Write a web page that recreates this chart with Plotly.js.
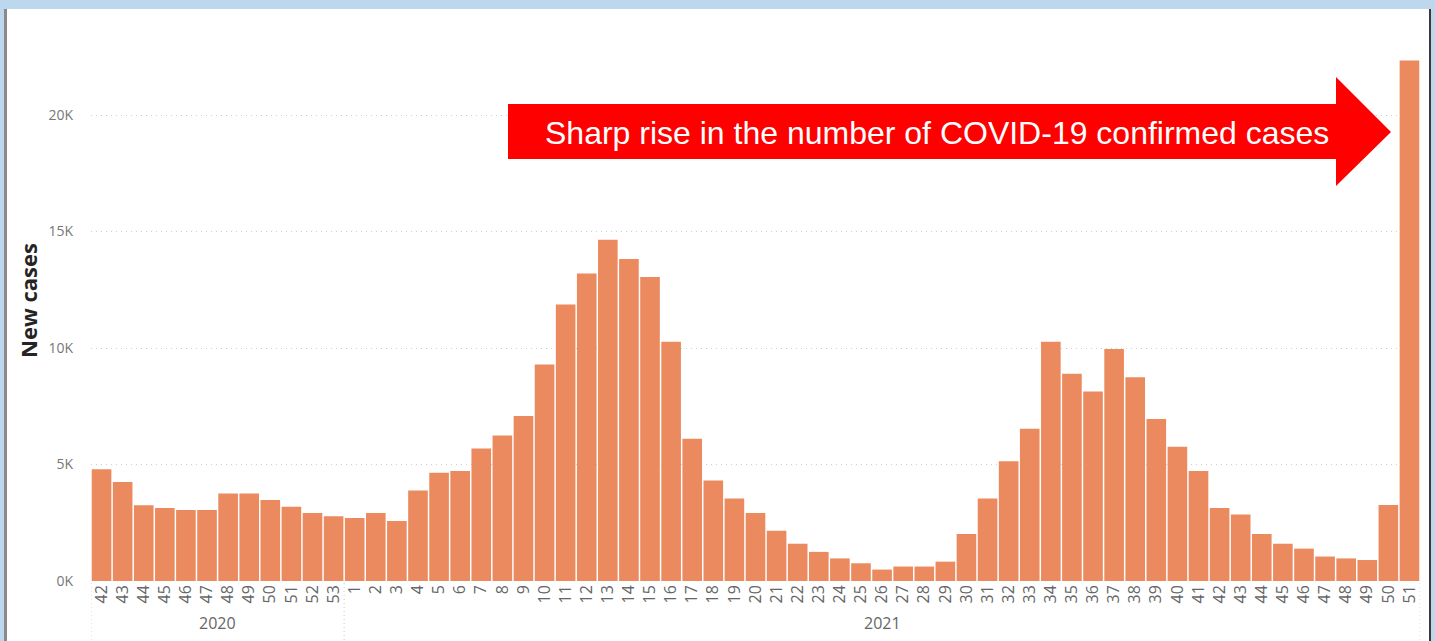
<!DOCTYPE html>
<html>
<head>
<meta charset="utf-8">
<script src="https://cdn.plot.ly/plotly-3.0.1.min.js"></script>
<style>
  html, body { margin: 0; padding: 0; width: 1435px; height: 641px; overflow: hidden; background: #BDD7EE; }
  #panel { position: absolute; left: 4px; top: 9px; width: 1427px; height: 632px; background: #ffffff;
           border-left: 3px solid #8a8a8a; border-right: 2px solid #3a3a3a; box-sizing: border-box; }
  #chart { position: absolute; left: 0; top: 0; width: 1435px; height: 641px; }
</style>
</head>
<body>
<div id="panel"></div>
<div id="chart"></div>
<script>
// ---- data ----
const weeks2020 = ["42","43","44","45","46","47","48","49","50","51","52","53"];
const cases2020 = [4800,4250,3250,3130,3050,3050,3760,3760,3480,3190,2920,2780];
const weeks2021 = ["1","2","3","4","5","6","7","8","9","10","11","12","13","14","15","16","17","18","19","20",
                   "21","22","23","24","25","26","27","28","29","30","31","32","33","34","35","36","37","38","39","40",
                   "41","42","43","44","45","46","47","48","49","50","51"];
const cases2021 = [2700,2920,2580,3880,4650,4720,5690,6250,7080,9290,11870,13200,14650,13820,13050,10270,6100,4310,3540,2920,
                   2160,1600,1250,970,760,490,620,620,830,2020,3540,5140,6530,10270,8890,8130,9960,8750,6950,5760,
                   4720,3130,2850,2020,1600,1390,1050,970,900,3260,22340];
const yTickVals = [0,5000,10000,15000,20000];
const yTickText = ["0K","5K","10K","15K","20K"];
const yearLabels = ["2020","2021"];
const arrowText = "Sharp rise in the number of COVID-19 confirmed cases";

// ---- build ----
const cats = weeks2020.map(w => "2020-" + w).concat(weeks2021.map(w => "2021-" + w));
const weekText = weeks2020.concat(weeks2021);
const values = cases2020.concat(cases2021);

// layout geometry (pixels in window)
const L = 91, R = 1420, T = 20, B = 581;
const px2x = p => (p - L) / (R - L);
const py2y = p => (B - p) / (B - T);

const n2020 = weeks2020.length, nAll = cats.length;

const arrowPts = [[508,104],[1336,104],[1336,77],[1391,132],[1336,186],[1336,159],[508,159]];
const arrowPath = "M " + arrowPts.map(p => px2x(p[0]).toFixed(5) + "," + py2y(p[1]).toFixed(5)).join(" L ") + " Z";

const sepStyle = {color: "#c8c8c8", width: 1, dash: "1px,3px"};
const shapes = [
  {type: "path", xref: "paper", yref: "paper", path: arrowPath, fillcolor: "#FF0000", line: {width: 0}},
  {type: "line", xref: "x", yref: "paper", x0: -0.5, x1: -0.5, y0: py2y(583), y1: py2y(641), line: sepStyle},
  {type: "line", xref: "x", yref: "paper", x0: n2020 - 0.5, x1: n2020 - 0.5, y0: py2y(583), y1: py2y(641), line: sepStyle},
  {type: "line", xref: "x", yref: "paper", x0: nAll - 0.5, x1: nAll - 0.5, y0: py2y(583), y1: py2y(641), line: sepStyle}
];

const annotations = [
  {xref: "x", yref: "paper", x: (n2020 - 1) / 2, y: py2y(623), text: yearLabels[0], showarrow: false,
   font: {family: "Open Sans", size: 16, color: "#666666"}, xanchor: "center", yanchor: "middle"},
  {xref: "x", yref: "paper", x: (n2020 + nAll - 1) / 2, y: py2y(623), text: yearLabels[1], showarrow: false,
   font: {family: "Open Sans", size: 16, color: "#666666"}, xanchor: "center", yanchor: "middle"},
  {xref: "paper", yref: "paper", x: px2x(937), y: py2y(133), text: arrowText, showarrow: false,
   font: {family: "Liberation Sans, Arial", size: 32, color: "#ffffff"}, xanchor: "center", yanchor: "middle"}
];

const trace = {
  type: "bar",
  x: cats,
  y: values,
  marker: {color: "#EB8A5E", line: {width: 0}},
  hoverinfo: "x+y"
};

const layout = {
  width: 1435, height: 641,
  margin: {l: L, r: 1435 - R, t: T, b: 641 - B, pad: 0},
  paper_bgcolor: "rgba(0,0,0,0)",
  plot_bgcolor: "rgba(0,0,0,0)",
  bargap: 0.07,
  showlegend: false,
  xaxis: {
    type: "category",
    tickmode: "array", tickvals: cats, ticktext: weekText,
    tickangle: -90,
    tickfont: {family: "Open Sans", size: 16, color: "#666666"},
    showgrid: false, zeroline: false, showline: false, ticks: "",
    range: [-0.5, nAll - 0.5],
    automargin: false
  },
  yaxis: {
    range: [0, (B - T) / 23.3 * 1000],
    tickmode: "array", tickvals: yTickVals, ticktext: yTickText,
    tickfont: {family: "Open Sans", size: 14, color: "#777777"},
    ticklabelstandoff: 17,
    showgrid: true, gridcolor: "#cfcfcf", griddash: "1px,4px", gridwidth: 1,
    zeroline: false, showline: false, ticks: "",
    title: {text: "New cases", font: {family: "Open Sans", size: 22, color: "#252423", weight: "bold"}, standoff: 4},
    automargin: false
  },
  shapes: shapes,
  annotations: annotations
};

Plotly.newPlot("chart", [trace], layout, {displayModeBar: false, staticPlot: false});
</script>
</body>
</html>
